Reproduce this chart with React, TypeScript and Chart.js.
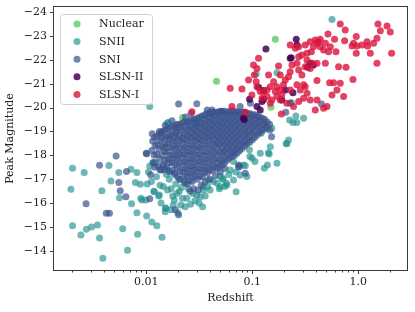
import React, { useEffect, useRef } from 'react';
import { Chart, registerables } from 'chart.js';

Chart.register(...registerables);

type P = [number, number];

const seriesLabels = ['Nuclear', 'SNII', 'SNI', 'SLSN-II', 'SLSN-I'];
const seriesColors = [
  'rgba(94,201,98,0.8)',
  'rgba(33,145,140,0.65)',
  'rgba(59,82,139,0.7)',
  'rgba(68,1,84,0.85)',
  'rgba(220,20,60,0.8)',
];

const nuclear: P[] = [
  [0.165, -22.86], [0.046, -21.1], [0.15, -20.01], [0.022, -19.58], [0.015, -18.34],
];

const snii: P[] = [
  // low-redshift scatter
  [0.00202, -17.46], [0.0026, -17.28], [0.00195, -16.58], [0.00382, -16.52], [0.00445, -17.57],
  [0.00552, -17.28], [0.00465, -16.93], [0.00718, -17.42], [0.00817, -17.28], [0.0056, -16.22],
  [0.0079, -16.86], [0.00727, -15.97], [0.00817, -15.6], [0.0101, -15.46], [0.0113, -15.21],
  [0.0126, -15.05], [0.0141, -14.57], [0.0083, -14.7], [0.006, -14.93], [0.00202, -15.05],
  [0.00242, -14.67], [0.00273, -14.91], [0.00305, -15.0], [0.00347, -15.08], [0.00363, -14.54],
  [0.00666, -14.03], [0.0039, -13.69], [0.0091, -16.13], [0.0088, -16.79], [0.0117, -17.69],
  [0.0161, -19.37], [0.0108, -20.04],
  // right side and high luminosity
  [0.565, -23.69], [0.109, -21.4], [0.171, -21.46], [0.233, -20.21], [0.225, -19.48],
  [0.242, -19.37], [0.305, -19.55], [0.258, -19.65], [0.148, -18.36], [0.153, -19.13],
  [0.1216, -18.92], [0.22, -18.64], [0.212, -18.48], [0.119, -18.09], [0.1445, -18.06],
  [0.171, -17.67], [0.13, -17.46], [0.139, -17.6], [0.0996, -17.88], [0.086, -17.56],
  [0.089, -17.11], [0.0705, -16.48], [0.057, -16.83], [0.05, -17.11], [0.034, -15.85],
  [0.077, -17.18], [0.0827, -17.6], [0.106, -17.74], [0.094, -18.23], [0.0577, -16.76],
  [0.263, -19.37], [0.209, -18.5], [0.142, -18.11], [0.095, -17.95], [0.0665, -16.97],
  [0.0665, -17.74], [0.062, -17.39], [0.053, -17.04], [0.0387, -16.97], [0.0347, -16.69],
  [0.0497, -16.69],
  // mixed into the lower part of the main cloud
  [0.0105, -17.3], [0.0112, -16.9], [0.0118, -16.5], [0.0125, -17.1], [0.0131, -16.3],
  [0.0138, -16.0], [0.0145, -16.7], [0.0152, -15.8], [0.0159, -16.55], [0.0165, -17.0],
  [0.0171, -15.72], [0.0178, -16.3], [0.0184, -16.13], [0.019, -16.8], [0.0198, -15.6],
  [0.0205, -16.5], [0.0212, -15.92], [0.022, -16.2], [0.0228, -16.9], [0.0233, -15.85],
  [0.0242, -16.2], [0.025, -16.6], [0.0262, -15.95], [0.0275, -16.4], [0.0288, -16.1],
  [0.0301, -16.34], [0.0315, -16.0], [0.0323, -16.27], [0.0347, -16.55], [0.036, -16.3],
  [0.038, -16.7], [0.04, -16.55], [0.043, -16.9], [0.0465, -16.83], [0.049, -16.6],
  [0.0525, -17.0], [0.055, -16.7], [0.06, -17.2], [0.07, -17.3], [0.074, -17.5],
  [0.0133, -16.34], [0.0119, -16.48], [0.0153, -15.79], [0.0089, -16.2], [0.0099, -16.13],
  [0.0151, -15.64], [0.018, -15.92], [0.0157, -19.34], [0.03, -19.34], [0.0146, -17.6],
  [0.0162, -17.4], [0.0185, -17.2], [0.021, -17.0], [0.0122, -17.7],
  [0.0135, -16.75], [0.0155, -17.2], [0.0172, -16.6], [0.0195, -16.4], [0.0215, -16.65],
  [0.0102, -16.8], [0.0108, -17.55],
];

const sni: P[] = [
  // outliers
  [0.0052, -17.97], [0.00363, -17.59], [0.00652, -17.32], [0.00552, -16.86], [0.00569, -16.52],
  [0.00643, -16.27], [0.00271, -15.97], [0.0042, -15.58], [0.0045, -15.58], [0.0101, -18.07],
  [0.0108, -16.18], [0.011, -17.19], [0.0138, -17.39], [0.0202, -15.51], [0.0202, -20.15],
  [0.03, -20.16], [0.0138, -18.95], [0.0192, -19.15], [0.01, -18.09], [0.0376, -19.9],
  [0.45, -20.15], [0.207, -19.8], [0.228, -20.18], [0.146, -19.06], [0.152, -18.78],
  [0.0757, -17.53], [0.0417, -19.9], [0.0518, -19.83], [0.077, -20.04], [0.096, -20.18],
  [0.0742, -17.6], [0.086, -17.25], [0.0188, -15.72],
  [0.0133, -19.0], [0.0151, -19.25], [0.0175, -19.45], [0.0235, -19.6], [0.0265, -19.75],
  [0.033, -16.75], [0.036, -16.9], [0.04, -17.0], [0.045, -17.15], [0.05, -17.3],
  [0.031, -16.55], [0.028, -16.6], [0.026, -16.5], [0.055, -17.45],
  // main cloud
  [0.0114, -18.9], [0.0115, -18.6], [0.0113, -18.2], [0.0116, -17.7],
  [0.012, -18.75], [0.0121, -18.4], [0.0119, -18.0], [0.012, -17.5],
  [0.0127, -18.8], [0.0128, -18.45], [0.0126, -18.05], [0.0129, -17.55],
  [0.0134, -18.9], [0.0135, -18.6], [0.0133, -18.25], [0.0134, -17.85], [0.0135, -17.4],
  [0.0142, -19.0], [0.0141, -18.7], [0.0143, -18.35], [0.0142, -18.0], [0.0144, -17.6],
  [0.015, -19.05], [0.0151, -18.75], [0.0149, -18.45], [0.015, -18.15], [0.0151, -17.8], [0.0149, -17.4],
  [0.0158, -19.1], [0.0157, -18.8], [0.0159, -18.5], [0.0158, -18.15], [0.016, -17.85], [0.0157, -17.5],
  [0.0167, -19.15], [0.0168, -18.85], [0.0166, -18.65], [0.0167, -18.35], [0.0168, -18.0], [0.0166, -17.7], [0.0167, -17.3],
  [0.0176, -19.2], [0.0175, -18.9], [0.0177, -18.6], [0.0176, -18.3], [0.0178, -18.0], [0.0175, -17.7], [0.0176, -17.35],
  [0.0186, -19.25], [0.0187, -18.95], [0.0185, -18.75], [0.0186, -18.45], [0.0187, -18.2], [0.0185, -17.9], [0.0186, -17.6], [0.0187, -17.25],
  [0.0196, -19.3], [0.0195, -19.0], [0.0197, -18.7], [0.0196, -18.4], [0.0198, -18.1], [0.0195, -17.8], [0.0196, -17.5], [0.0197, -17.1],
  [0.0207, -19.3], [0.0208, -19.15], [0.0206, -18.85], [0.0207, -18.6], [0.0208, -18.3], [0.0206, -18.0], [0.0207, -17.7], [0.0208, -17.35], [0.0206, -17.0],
  [0.0219, -19.35], [0.0218, -19.05], [0.022, -18.75], [0.0219, -18.5], [0.0221, -18.2], [0.0218, -17.9], [0.0219, -17.6], [0.022, -17.3],
  [0.0231, -19.4], [0.0232, -19.2], [0.023, -18.9], [0.0231, -18.65], [0.0232, -18.35], [0.023, -18.05], [0.0231, -17.75], [0.0232, -17.45], [0.023, -17.15], [0.0231, -16.85],
  [0.0244, -19.4], [0.0243, -19.1], [0.0245, -18.85], [0.0244, -18.6], [0.0246, -18.3], [0.0243, -18.0], [0.0244, -17.7], [0.0245, -17.4], [0.0243, -17.1], [0.0244, -16.8],
  [0.0258, -19.45], [0.0259, -19.25], [0.0257, -19.0], [0.0258, -18.75], [0.0259, -18.45], [0.0257, -18.15], [0.0258, -17.85], [0.0259, -17.55], [0.0257, -17.25], [0.0258, -16.95],
  [0.0272, -19.5], [0.0271, -19.2], [0.0273, -18.95], [0.0272, -18.7], [0.0274, -18.4], [0.0271, -18.1], [0.0272, -17.8], [0.0273, -17.5], [0.0271, -17.2], [0.0272, -16.9],
  [0.0287, -19.5], [0.0288, -19.35], [0.0286, -19.1], [0.0287, -18.85], [0.0288, -18.6], [0.0286, -18.3], [0.0287, -18.0], [0.0288, -17.7], [0.0286, -17.4], [0.0287, -17.1],
  [0.0303, -19.55], [0.0302, -19.25], [0.0304, -19.0], [0.0303, -18.75], [0.0305, -18.5], [0.0302, -18.2], [0.0303, -17.9], [0.0304, -17.6], [0.0302, -17.3], [0.0303, -17.0],
  [0.032, -19.6], [0.0321, -19.4], [0.0319, -19.15], [0.032, -18.9], [0.0321, -18.65], [0.0319, -18.35], [0.032, -18.05], [0.0321, -17.75], [0.0319, -17.45], [0.032, -17.15],
  [0.0338, -19.65], [0.0337, -19.35], [0.0339, -19.1], [0.0338, -18.85], [0.034, -18.6], [0.0337, -18.3], [0.0338, -18.0], [0.0339, -17.7], [0.0337, -17.4], [0.0338, -17.1],
  [0.0357, -19.7], [0.0358, -19.5], [0.0356, -19.25], [0.0357, -19.0], [0.0358, -18.75], [0.0356, -18.45], [0.0357, -18.15], [0.0358, -17.85], [0.0356, -17.55], [0.0357, -17.3],
  [0.0377, -19.75], [0.0376, -19.45], [0.0378, -19.2], [0.0377, -18.95], [0.0379, -18.7], [0.0376, -18.4], [0.0377, -18.1], [0.0378, -17.8], [0.0376, -17.5], [0.0377, -17.25],
  [0.0398, -19.75], [0.0399, -19.6], [0.0397, -19.35], [0.0398, -19.1], [0.0399, -18.85], [0.0397, -18.6], [0.0398, -18.3], [0.0399, -18.0], [0.0397, -17.7], [0.0398, -17.4],
  [0.042, -19.8], [0.0419, -19.55], [0.0421, -19.3], [0.042, -19.05], [0.0422, -18.8], [0.0419, -18.5], [0.042, -18.2], [0.0421, -17.9], [0.0419, -17.6], [0.042, -17.35],
  [0.0443, -19.8], [0.0444, -19.65], [0.0442, -19.4], [0.0443, -19.15], [0.0444, -18.9], [0.0442, -18.65], [0.0443, -18.4], [0.0444, -18.1], [0.0442, -17.8], [0.0443, -17.5],
  [0.0468, -19.8], [0.0467, -19.55], [0.0469, -19.3], [0.0468, -19.05], [0.047, -18.8], [0.0467, -18.55], [0.0468, -18.3], [0.0469, -18.0], [0.0467, -17.7], [0.0468, -17.45],
  [0.0494, -19.85], [0.0495, -19.7], [0.0493, -19.45], [0.0494, -19.2], [0.0495, -18.95], [0.0493, -18.7], [0.0494, -18.45], [0.0495, -18.15], [0.0493, -17.85], [0.0494, -17.55],
  [0.0521, -19.85], [0.052, -19.6], [0.0522, -19.35], [0.0521, -19.1], [0.0523, -18.85], [0.052, -18.6], [0.0521, -18.35], [0.0522, -18.1], [0.052, -17.8], [0.0521, -17.6],
  [0.055, -19.85], [0.0551, -19.7], [0.0549, -19.45], [0.055, -19.2], [0.0551, -18.95], [0.0549, -18.7], [0.055, -18.45], [0.0551, -18.2], [0.0549, -17.95], [0.055, -17.7],
  [0.0581, -19.8], [0.058, -19.55], [0.0582, -19.3], [0.0581, -19.05], [0.0583, -18.8], [0.058, -18.55], [0.0581, -18.3], [0.0582, -18.05], [0.058, -17.8],
  [0.0613, -19.85], [0.0614, -19.7], [0.0612, -19.45], [0.0613, -19.2], [0.0614, -18.95], [0.0612, -18.7], [0.0613, -18.45], [0.0614, -18.2], [0.0612, -17.9],
  [0.0647, -19.85], [0.0646, -19.6], [0.0648, -19.35], [0.0647, -19.1], [0.0649, -18.85], [0.0646, -18.6], [0.0647, -18.35], [0.0648, -18.1], [0.0646, -17.95],
  [0.0683, -19.85], [0.0684, -19.7], [0.0682, -19.45], [0.0683, -19.2], [0.0684, -18.95], [0.0682, -18.7], [0.0683, -18.45], [0.0684, -18.2], [0.0682, -18.0],
  [0.0721, -19.8], [0.072, -19.55], [0.0722, -19.3], [0.0721, -19.05], [0.0723, -18.8], [0.072, -18.55], [0.0721, -18.3], [0.0722, -18.1],
  [0.0761, -19.8], [0.0762, -19.65], [0.076, -19.4], [0.0761, -19.15], [0.0762, -18.9], [0.076, -18.65], [0.0761, -18.4], [0.0762, -18.2],
  [0.0804, -19.8], [0.0803, -19.55], [0.0805, -19.3], [0.0804, -19.05], [0.0806, -18.8], [0.0803, -18.55], [0.0804, -18.3],
  [0.0849, -19.8], [0.085, -19.6], [0.0848, -19.35], [0.0849, -19.1], [0.085, -18.85], [0.0848, -18.6], [0.0849, -18.4],
  [0.0896, -19.75], [0.0895, -19.5], [0.0897, -19.25], [0.0896, -19.0], [0.0898, -18.75], [0.0895, -18.5],
  [0.0946, -19.75], [0.0947, -19.55], [0.0945, -19.3], [0.0946, -19.05], [0.0947, -18.8], [0.0945, -18.55],
  [0.0998, -19.7], [0.0997, -19.45], [0.0999, -19.2], [0.0998, -18.95], [0.1, -18.65],
  [0.1054, -19.7], [0.1055, -19.5], [0.1053, -19.25], [0.1054, -19.0], [0.1055, -18.75],
  [0.111, -19.65], [0.1108, -19.4], [0.1112, -19.15], [0.111, -18.85],
  [0.1172, -19.6], [0.1173, -19.45], [0.1171, -19.2], [0.1172, -18.95],
  [0.124, -19.55], [0.1238, -19.3], [0.1242, -19.05],
  [0.1309, -19.5], [0.131, -19.3], [0.1308, -19.1],
  [0.138, -19.4], [0.1378, -19.15], [0.1457, -19.3],
];

const slsnII: P[] = [
  [0.26, -22.86], [0.264, -22.62], [0.1346, -22.45], [0.233, -22.09], [0.352, -21.85],
  [0.332, -21.69], [0.378, -21.78], [0.1146, -20.85], [0.128, -20.71], [0.0944, -20.35],
  [0.1236, -20.25], [0.1189, -19.9], [0.2047, -20.74], [0.242, -20.62], [0.19, -20.32],
  [0.0828, -19.55], [0.128, -20.35], [0.1107, -20.04], [0.0841, -19.5], [0.228, -22.06],
];

const slsnI: P[] = [
  [0.676, -23.5], [0.753, -23.25], [0.518, -23.08], [0.597, -22.86], [0.743, -22.8],
  [0.957, -22.97], [0.903, -22.69], [0.972, -22.58], [0.873, -22.58], [1.208, -22.76],
  [1.224, -22.58], [1.394, -22.69], [1.5, -22.9], [1.534, -23.5], [1.614, -23.22],
  [1.866, -23.41], [2.004, -23.16], [1.297, -22.27], [1.5, -21.85], [2.06, -22.27],
  [0.957, -22.27], [1.083, -22.62], [0.422, -22.76], [0.378, -22.55], [0.438, -22.55],
  [0.471, -22.41], [0.525, -22.34], [0.545, -22.55], [0.616, -22.34], [0.489, -22.69],
  [0.361, -22.34], [0.328, -22.27], [0.294, -22.2], [0.274, -22.13], [0.228, -22.62],
  [0.255, -22.48], [0.274, -22.55], [0.316, -22.62], [0.352, -22.76], [0.393, -22.83],
  [0.438, -22.86], [0.408, -22.69], [0.328, -21.99], [0.366, -21.85], [0.408, -21.85],
  [0.489, -21.85], [0.316, -21.71], [0.352, -21.64], [0.264, -21.85], [0.274, -21.57],
  [0.294, -21.36], [0.228, -21.5], [0.237, -21.78], [0.177, -21.74], [0.1425, -21.36],
  [0.1146, -22.06], [0.1028, -21.78], [0.1107, -21.64], [0.1045, -21.36], [0.109, -21.08],
  [0.0923, -21.15], [0.08, -20.78], [0.062, -20.81], [0.652, -21.71], [0.766, -21.69],
  [0.891, -21.18], [0.536, -21.04], [0.585, -21.04], [0.676, -21.02], [0.629, -20.74],
  [0.565, -20.53], [0.727, -20.46], [0.408, -21.13], [0.1837, -21.36], [0.2047, -21.15],
  [0.22, -21.29], [0.197, -20.95], [0.171, -20.87], [0.159, -21.08], [0.148, -20.87],
  [0.1377, -20.74], [0.128, -20.67], [0.165, -20.67], [0.184, -20.74], [0.171, -20.46],
  [0.153, -20.32], [0.138, -20.46], [0.1236, -20.39], [0.184, -20.32], [0.19, -20.53],
  [0.228, -20.74], [0.264, -20.95], [0.284, -20.74], [0.316, -20.87], [0.328, -20.6],
  [0.305, -20.39], [0.274, -20.25], [0.245, -20.04], [0.352, -20.32], [0.393, -19.9],
  [0.471, -19.97], [0.507, -20.04], [0.1107, -20.87], [0.1189, -20.67], [0.0993, -20.53],
  [0.148, -20.18], [0.212, -20.18], [0.408, -20.32], [0.188, -19.73], [0.0643, -20.04],
  [0.0859, -19.8], [0.027, -19.83], [0.305, -20.95],
];

const seriesData: P[][] = [nuclear, snii, sni, slsnII, slsnI];

const yTickValues = [-24, -23, -22, -21, -20, -19, -18, -17, -16, -15, -14];
const xMajorTicks = [0.01, 0.1, 1];
const xTickLabels = ['0.01', '0.1', '1.0'];
const xDecades = [0.001, 0.01, 0.1, 1];

const FONT = "'DejaVu Serif', serif";

const framePlugin = {
  id: 'frame',
  afterDraw(chart: any) {
    const { ctx, chartArea: a, scales } = chart;
    const xs = scales.x;
    const ys = scales.y;
    ctx.save();
    ctx.strokeStyle = '#3a3a3a';
    ctx.lineWidth = 1;
    const L = Math.round(a.left) - 0.5;
    const T = Math.round(a.top) - 0.5;
    const R = Math.round(a.right) + 0.5;
    const B = Math.round(a.bottom) + 0.5;
    ctx.strokeRect(L, T, R - L, B - T);
    ctx.beginPath();
    for (const v of yTickValues) {
      const py = Math.round(ys.getPixelForValue(v)) + 0.5;
      ctx.moveTo(L - 3.5, py);
      ctx.lineTo(L, py);
    }
    for (const d of xDecades) {
      for (let k = 1; k <= 9; k++) {
        const v = k * d;
        if (v < xs.min || v > xs.max) continue;
        const px = Math.round(xs.getPixelForValue(v)) + 0.5;
        const len = k === 1 ? 3.5 : 2;
        ctx.moveTo(px, B);
        ctx.lineTo(px, B + len);
      }
    }
    ctx.stroke();

    // legend
    const bx = a.left + 6.5;
    const by = a.top + 7.5;
    const bw = 92;
    const bh = 90;
    const r = 3;
    ctx.beginPath();
    ctx.moveTo(bx + r, by);
    ctx.lineTo(bx + bw - r, by);
    ctx.arcTo(bx + bw, by, bx + bw, by + r, r);
    ctx.lineTo(bx + bw, by + bh - r);
    ctx.arcTo(bx + bw, by + bh, bx + bw - r, by + bh, r);
    ctx.lineTo(bx + r, by + bh);
    ctx.arcTo(bx, by + bh, bx, by + bh - r, r);
    ctx.lineTo(bx, by + r);
    ctx.arcTo(bx, by, bx + r, by, r);
    ctx.closePath();
    ctx.fillStyle = 'rgba(255,255,255,0.8)';
    ctx.fill();
    ctx.strokeStyle = '#d0d0d0';
    ctx.stroke();
    ctx.font = `11px ${FONT}`;
    ctx.textBaseline = 'middle';
    ctx.textAlign = 'left';
    seriesLabels.forEach((label, i) => {
      const cy = a.top + 17 + i * 17.6;
      ctx.beginPath();
      ctx.arc(a.left + 23, cy, 3.5, 0, Math.PI * 2);
      ctx.fillStyle = seriesColors[i];
      ctx.fill();
      ctx.fillStyle = '#222';
      ctx.fillText(label, a.left + 45, cy + 0.5);
    });
    ctx.restore();
  },
};

export default function App() {
  const ref = useRef<HTMLCanvasElement | null>(null);
  useEffect(() => {
    if (!ref.current) return;
    const chart = new Chart(ref.current, {
      type: 'scatter',
      data: {
        datasets: seriesData.map((d, i) => ({
          label: seriesLabels[i],
          data: d.map(([x, y]) => ({ x, y })),
          backgroundColor: seriesColors[i],
          borderWidth: 0,
          pointRadius: 3.5,
          pointHoverRadius: 3.5,
          order: seriesData.length - i,
        })),
      },
      options: {
        animation: false,
        responsive: false,
        maintainAspectRatio: false,
        devicePixelRatio: 1,
        layout: { padding: { top: 7, right: 8, left: 0, bottom: 0 } },
        plugins: {
          legend: { display: false },
          tooltip: { enabled: false },
        },
        events: [],
        scales: {
          x: {
            type: 'logarithmic',
            min: 0.00135,
            max: 2.88,
            grid: { display: false, drawTicks: false },
            border: { display: false },
            afterBuildTicks: (s: any) => {
              s.ticks = xMajorTicks.map((v) => ({ value: v }));
            },
            afterFit: (s: any) => {
              s.height = 42;
              s.paddingLeft = 0;
              s.paddingRight = 0;
            },
            ticks: {
              autoSkip: false,
              maxRotation: 0,
              padding: 6,
              color: '#222',
              font: { family: FONT, size: 11 },
              callback: (v: any) => {
                const idx = xMajorTicks.findIndex((m) => Math.abs(Number(v) - m) / m < 1e-6);
                return idx >= 0 ? xTickLabels[idx] : '';
              },
            },
            title: {
              display: true,
              text: 'Redshift',
              color: '#222',
              font: { family: FONT, size: 11 },
              padding: { top: 0, bottom: 7 },
            },
          },
          y: {
            type: 'linear',
            reverse: true,
            min: -24.21,
            max: -13.2,
            grid: { display: false, drawTicks: false },
            border: { display: false },
            afterBuildTicks: (s: any) => {
              s.ticks = yTickValues.map((v) => ({ value: v }));
            },
            afterFit: (s: any) => {
              s.width = 54;
              s.paddingTop = 0;
              s.paddingBottom = 0;
            },
            ticks: {
              padding: 7,
              color: '#222',
              font: { family: FONT, size: 11 },
              callback: (v: any) => '\u2212' + Math.abs(Number(v)),
            },
            title: {
              display: true,
              text: 'Peak Magnitude',
              color: '#222',
              font: { family: FONT, size: 11 },
              padding: { top: 4, bottom: 0 },
            },
          },
        },
      } as any,
      plugins: [framePlugin],
    });
    return () => chart.destroy();
  }, []);
  return (
    <div style={{ position: 'absolute', left: 0, top: 0, width: 415, height: 312 }}>
      <canvas ref={ref} width={415} height={312} style={{ display: 'block' }} />
    </div>
  );
}
